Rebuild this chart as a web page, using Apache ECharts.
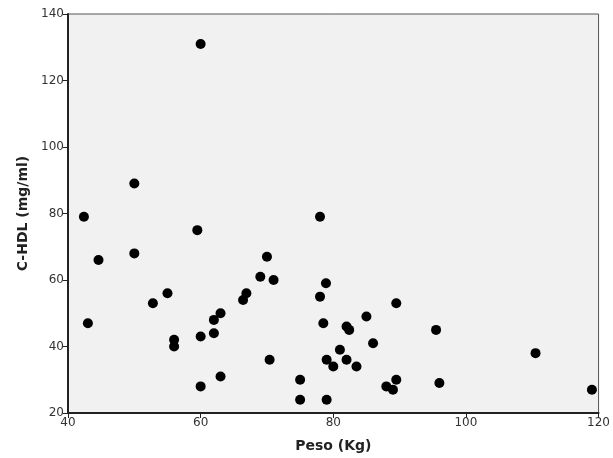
<!DOCTYPE html>
<html>
<head>
<meta charset="utf-8">
<script src="https://cdn.jsdelivr.net/npm/echarts@6/dist/echarts.min.js"></script>
<style>
  html, body { margin: 0; padding: 0; background: #fff; }
  #chart { width: 613px; height: 458px; }
</style>
</head>
<body>
<div id="chart"></div>
<script>
// Peso (Kg) vs c-HDL (mg/ml)
const peso = [42.4, 60, 50, 43, 44.6, 50, 59.5, 52.8, 55, 56, 56, 60, 60,
  62, 62, 63, 63, 66.4, 66.9, 69, 70, 71, 70.4, 75, 75,
  78, 78.9, 78.5, 79, 80, 79, 81, 82, 82.4, 82, 83.5, 85, 86,
  89.5, 88, 89, 89.5, 95.5, 96, 110.5, 119, 78];
const hdl = [79, 131, 89, 47, 66, 68, 75, 53, 56, 42, 40, 43, 28,
  48, 44, 50, 31, 54, 56, 61, 67, 60, 36, 30, 24,
  55, 59, 47, 36, 34, 24, 39, 46, 45, 36, 34, 49, 41,
  53, 28, 27, 30, 45, 29, 38, 27, 79];

const xTicks = [40, 60, 80, 100, 120];
const yTicks = [20, 40, 60, 80, 100, 120, 140];

const chart = echarts.init(document.getElementById('chart'));
chart.setOption({
  animation: false,
  backgroundColor: '#fff',
  grid: {
    left: 68, top: 14, width: 536, height: 399,
    show: true, backgroundColor: '#f1f1f1',
    borderColor: '#555', borderWidth: 1
  },
  xAxis: {
    type: 'value', min: xTicks[0], max: xTicks[xTicks.length - 1], interval: 20,
    name: 'Peso (Kg)', nameLocation: 'middle', nameGap: 26,
    nameTextStyle: { fontFamily: 'DejaVu Sans', fontWeight: 'bold', fontSize: 14, color: '#222' },
    axisLine: { lineStyle: { color: '#222', width: 2 } },
    axisTick: { show: true, length: 5, lineStyle: { color: '#222' } },
    axisLabel: { fontFamily: 'DejaVu Sans', fontSize: 12, color: '#333', margin: 4 },
    splitLine: { show: false }
  },
  yAxis: {
    type: 'value', min: yTicks[0], max: yTicks[yTicks.length - 1], interval: 20,
    name: 'C-HDL (mg/ml)', nameLocation: 'middle', nameGap: 36,
    nameTextStyle: { fontFamily: 'DejaVu Sans', fontWeight: 'bold', fontSize: 14, color: '#222' },
    axisLine: { lineStyle: { color: '#222', width: 2 } },
    axisTick: { show: true, length: 5, lineStyle: { color: '#222' } },
    axisLabel: { fontFamily: 'DejaVu Sans', fontSize: 12, color: '#333', margin: 4 },
    splitLine: { show: false }
  },
  series: [{
    type: 'scatter',
    data: peso.map((p, i) => [p, hdl[i]]),
    symbolSize: 10,
    itemStyle: { color: '#000', opacity: 1 }
  }]
});
</script>
</body>
</html>
